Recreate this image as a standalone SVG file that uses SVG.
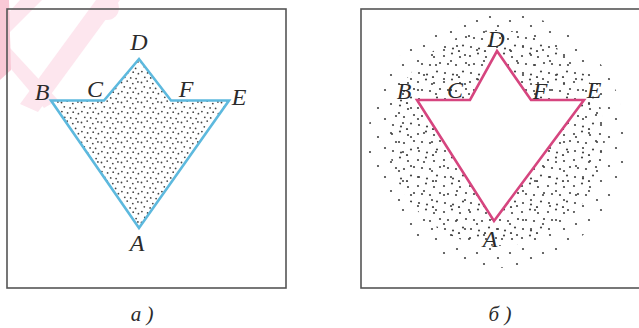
<svg xmlns="http://www.w3.org/2000/svg" width="639" height="328" viewBox="0 0 639 328">
<style>
.frame{fill:none;stroke:#555;stroke-width:1.6}
.lbl{font-family:"Liberation Serif","DejaVu Serif",serif;font-style:italic;font-size:24px;fill:#2b2b2b;text-anchor:middle}
.cap{font-family:"Liberation Serif","DejaVu Serif",serif;font-style:italic;font-size:21px;fill:#2b2b2b;text-anchor:middle}
.dot{fill:#444}
.wm{fill:#fde6ee}
</style>
<defs>
<pattern id="p1" width="20" height="20" patternUnits="userSpaceOnUse">
<g class="dot">
<circle cx="1.5" cy="2.5" r="0.9"/><circle cx="7.2" cy="1.1" r="0.9"/><circle cx="12.8" cy="3.6" r="0.9"/><circle cx="17.9" cy="1.9" r="0.9"/>
<circle cx="4.3" cy="6.8" r="0.9"/><circle cx="10.1" cy="7.9" r="0.9"/><circle cx="15.6" cy="8.4" r="0.9"/><circle cx="1.9" cy="11.6" r="0.9"/>
<circle cx="7.6" cy="12.9" r="0.9"/><circle cx="13.2" cy="12.2" r="0.9"/><circle cx="18.4" cy="13.7" r="0.9"/><circle cx="4.8" cy="17.3" r="0.9"/>
<circle cx="10.7" cy="17.9" r="0.9"/><circle cx="16.1" cy="18.6" r="0.9"/>
</g>
</pattern>
<pattern id="p3" width="26" height="26" patternUnits="userSpaceOnUse">
<g class="dot">
<circle cx="2" cy="4" r="1.1"/><circle cx="10" cy="1.5" r="1.1"/><circle cx="18" cy="5" r="1.1"/><circle cx="24" cy="11" r="1.1"/>
<circle cx="6" cy="12" r="1.1"/><circle cx="14" cy="13" r="1.1"/><circle cx="21" cy="19.5" r="1.1"/><circle cx="3" cy="21" r="1.1"/>
<circle cx="11" cy="22.5" r="1.1"/><circle cx="17" cy="25" r="1.1"/>
</g>
</pattern>
<pattern id="p4" width="33" height="29" patternUnits="userSpaceOnUse">
<g class="dot">
<circle cx="7" cy="7" r="1.1"/><circle cx="22" cy="3" r="1.1"/><circle cx="28" cy="17" r="1.1"/><circle cx="15" cy="21" r="1.1"/><circle cx="3" cy="26" r="1.1"/>
</g>
</pattern>
</defs>

<g id="watermark">
<polygon class="wm" points="20,0 42,0 0,42 0,22"/>
<polygon class="wm" points="96,0 120,0 38,112 20,104"/>
<polygon class="wm" points="0,56 10,48 58,100 44,108"/>
<circle class="wm" cx="107" cy="8" r="12"/>
<polygon fill="#f9c9d6" points="0,0 9,0 11,70 0,80"/>
</g>

<g id="panel-a">
<rect class="frame" x="7" y="9" width="279" height="279"/>
<g id="shape-a">
<polygon points="51,100.5 104,100.5 139,59 171,100.5 229,100.5 139,228" fill="url(#p1)"/>
<polygon points="51,100.5 104,100.5 139,59 171,100.5 229,100.5 139,228" fill="none" stroke="#5db9de" stroke-width="2.6" stroke-linejoin="miter"/>
</g>
<g id="labels-a">
<text class="lbl" x="139" y="50">D</text>
<text class="lbl" x="42" y="100">B</text>
<text class="lbl" x="95" y="97">C</text>
<text class="lbl" x="186" y="97">F</text>
<text class="lbl" x="239" y="105">E</text>
<text class="lbl" x="137" y="251">A</text>
</g>
<text class="cap" x="142" y="321">а )</text>
</g>

<g id="panel-b">
<rect class="frame" x="361" y="9" width="290" height="279"/>
<g id="cloud">
<ellipse cx="497" cy="140" rx="129" ry="128" fill="url(#p4)"/>
<ellipse cx="497" cy="138" rx="108" ry="108" fill="url(#p3)"/>
</g>
<g id="shape-b">
<polygon points="417,100 470,100 497,51 531,100 584,100 494,221" fill="#fff" stroke="#d6457f" stroke-width="2.6" stroke-linejoin="miter"/>
</g>
<g id="labels-b">
<text class="lbl" x="496" y="47">D</text>
<text class="lbl" x="404" y="99">B</text>
<text class="lbl" x="455" y="98">C</text>
<text class="lbl" x="540" y="99">F</text>
<text class="lbl" x="594" y="98">E</text>
<text class="lbl" x="490" y="247">A</text>
</g>
<text class="cap" x="500" y="321">б )</text>
</g>
</svg>
